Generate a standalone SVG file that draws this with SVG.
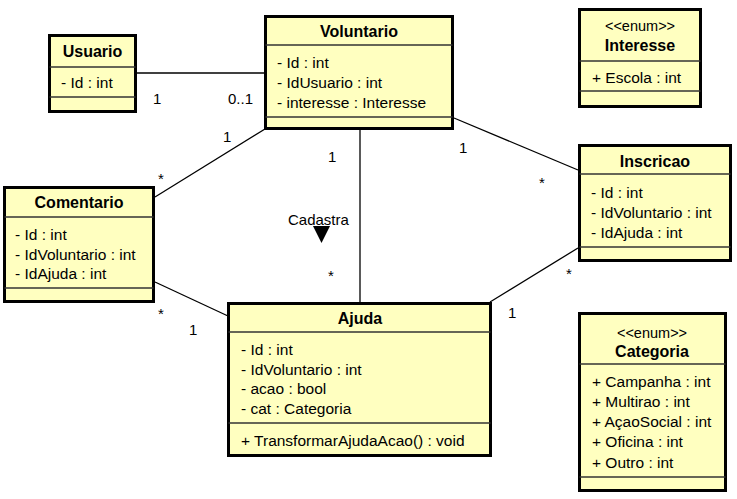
<svg xmlns="http://www.w3.org/2000/svg" width="737" height="499" viewBox="0 0 737 499">
<style>
.box{fill:#ffffc0;stroke:#000;stroke-width:3}
.sep{stroke:#333;stroke-width:1.3}
.t{font-family:"Liberation Sans",Arial,sans-serif;font-size:15.5px;fill:#000}
.b{font-weight:bold;text-anchor:middle;font-size:16px}
.s{font-size:14.5px;text-anchor:middle}
.m{font-family:"Liberation Sans",Arial,sans-serif;font-size:15px;fill:#000}
.c{stroke:#000;stroke-width:1.3;fill:none}
</style>
<rect width="737" height="499" fill="#fff"/>
<g id="connectors">
<line class="c" x1="137" y1="73" x2="265" y2="73"/>
<line class="c" x1="265" y1="129" x2="155" y2="197"/>
<line class="c" x1="360" y1="130" x2="360" y2="302"/>
<line class="c" x1="454" y1="118" x2="578" y2="170"/>
<line class="c" x1="155" y1="282" x2="228" y2="316"/>
<line class="c" x1="578" y1="248" x2="490" y2="302"/>
<text class="m" x="153" y="104">1</text>
<text class="m" x="228" y="104">0..1</text>
<text class="m" x="223" y="142">1</text>
<text class="m" x="158" y="184">*</text>
<text class="m" x="328" y="162">1</text>
<text class="m" x="328" y="281">*</text>
<text class="m" x="288" y="225">Cadastra</text>
<polygon points="313,226 330,226 321.5,243" fill="#000"/>
<text class="m" x="459" y="153">1</text>
<text class="m" x="539" y="188">*</text>
<text class="m" x="158" y="319">*</text>
<text class="m" x="189" y="335">1</text>
<text class="m" x="566" y="279">*</text>
<text class="m" x="508" y="318">1</text>
</g>
<g id="Usuario">
<rect class="box" x="49.5" y="35.5" width="86" height="76"/>
<line class="sep" x1="49.5" y1="67" x2="135.5" y2="67"/>
<line class="sep" x1="49.5" y1="97" x2="135.5" y2="97"/>
<text class="t b" x="92.5" y="57">Usuario</text>
<text class="t" x="61" y="88">- Id : int</text>
</g>
<g id="Voluntario">
<rect class="box" x="265.5" y="16.5" width="187" height="112"/>
<line class="sep" x1="265.5" y1="45" x2="452.5" y2="45"/>
<line class="sep" x1="265.5" y1="117" x2="452.5" y2="117"/>
<text class="t b" x="359" y="37">Voluntario</text>
<text class="t" x="277" y="68">- Id : int</text>
<text class="t" x="277" y="88">- IdUsuario : int</text>
<text class="t" x="277" y="108">- interesse : Interesse</text>
</g>
<g id="Interesse">
<rect class="box" x="579.5" y="9.5" width="121" height="97"/>
<line class="sep" x1="579.5" y1="61" x2="700.5" y2="61"/>
<line class="sep" x1="579.5" y1="91" x2="700.5" y2="91"/>
<text class="t s" x="640" y="31">&lt;&lt;enum&gt;&gt;</text>
<text class="t b" x="640" y="51">Interesse</text>
<text class="t" x="592" y="83">+ Escola : int</text>
</g>
<g id="Comentario">
<rect class="box" x="4.5" y="187.5" width="149" height="114"/>
<line class="sep" x1="4.5" y1="217" x2="153.5" y2="217"/>
<line class="sep" x1="4.5" y1="288" x2="153.5" y2="288"/>
<text class="t b" x="79" y="208">Comentario</text>
<text class="t" x="15" y="240">- Id : int</text>
<text class="t" x="15" y="260">- IdVoluntario : int</text>
<text class="t" x="15" y="279">- IdAjuda : int</text>
</g>
<g id="Inscricao">
<rect class="box" x="579.5" y="145.5" width="151" height="115"/>
<line class="sep" x1="579.5" y1="174" x2="730.5" y2="174"/>
<line class="sep" x1="579.5" y1="247" x2="730.5" y2="247"/>
<text class="t b" x="655" y="167">Inscricao</text>
<text class="t" x="591" y="198">- Id : int</text>
<text class="t" x="591" y="218">- IdVoluntario : int</text>
<text class="t" x="591" y="238">- IdAjuda : int</text>
</g>
<g id="Ajuda">
<rect class="box" x="228.5" y="303.5" width="262" height="152"/>
<line class="sep" x1="228.5" y1="332" x2="490.5" y2="332"/>
<line class="sep" x1="228.5" y1="423" x2="490.5" y2="423"/>
<text class="t b" x="360" y="324">Ajuda</text>
<text class="t" x="241" y="355">- Id : int</text>
<text class="t" x="241" y="375">- IdVoluntario : int</text>
<text class="t" x="241" y="394">- acao : bool</text>
<text class="t" x="241" y="414">- cat : Categoria</text>
<text class="t" x="241" y="446">+ TransformarAjudaAcao() : void</text>
</g>
<g id="Categoria">
<rect class="box" x="579.5" y="313.5" width="146" height="177"/>
<line class="sep" x1="579.5" y1="364" x2="725.5" y2="364"/>
<line class="sep" x1="579.5" y1="477" x2="725.5" y2="477"/>
<text class="t s" x="652" y="338">&lt;&lt;enum&gt;&gt;</text>
<text class="t b" x="652" y="357">Categoria</text>
<text class="t" x="592" y="387">+ Campanha : int</text>
<text class="t" x="592" y="407">+ Multirao : int</text>
<text class="t" x="592" y="427">+ AçaoSocial : int</text>
<text class="t" x="592" y="447">+ Oficina : int</text>
<text class="t" x="592" y="468">+ Outro : int</text>
</g>
</svg>
